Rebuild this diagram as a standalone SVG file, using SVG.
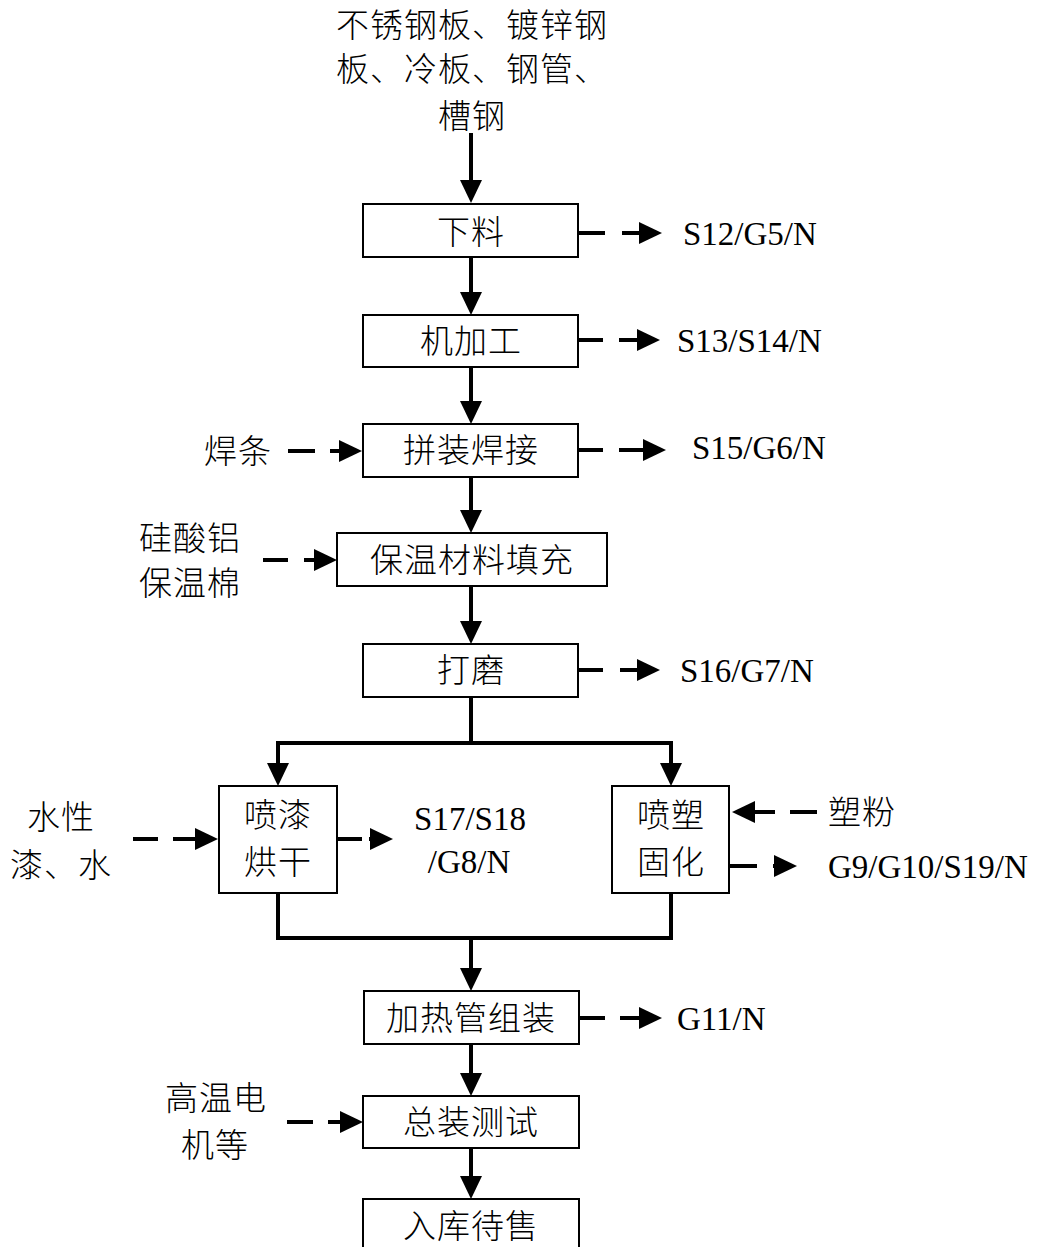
<svg xmlns="http://www.w3.org/2000/svg" width="1043" height="1247" viewBox="0 0 1043 1247">
<defs>
<style>
.box{fill:#fff;stroke:#000;stroke-width:2}
.cn{font-family:"Noto Sans CJK SC","Liberation Serif",serif;font-size:33px;font-weight:300;letter-spacing:1px;fill:#000}
.en{font-family:"Liberation Serif","Times New Roman",serif;font-size:33px;fill:#000}
.mid{text-anchor:middle}
.ln{fill:none;stroke:#000;stroke-width:4;marker-end:url(#ah)}
.pl{fill:none;stroke:#000;stroke-width:4}
</style>
<marker id="ah" markerUnits="userSpaceOnUse" viewBox="0 0 23 22" markerWidth="23" markerHeight="22" refX="17" refY="11" orient="auto">
<path d="M0 0 L23 11 L0 22 Z" fill="#000"/>
</marker>
</defs>
<rect width="1043" height="1247" fill="#fff"/>

<g id="connectors">
<path class="ln" d="M471 133 V197"/>
<path class="ln" d="M471 257 V309"/>
<path class="ln" d="M471 367 V418"/>
<path class="ln" d="M471 477 V527"/>
<path class="ln" d="M471 586 V638"/>
<path class="pl" d="M471 697 V743 M278 743 H671"/>
<path class="ln" d="M278 741 V780"/>
<path class="ln" d="M671 741 V780"/>
<path class="pl" d="M278 893 V938 M671 893 V938 M276 938 H673"/>
<path class="ln" d="M471 938 V985"/>
<path class="ln" d="M471 1044 V1090"/>
<path class="ln" d="M471 1148 V1193"/>
<path class="ln" d="M578 233 H605 M622 233 H656"/>
<path class="ln" d="M578 340 H603 M619 340 H654"/>
<path class="ln" d="M578 450 H603 M619 450 H660"/>
<path class="ln" d="M578 670 H603 M620 670 H654"/>
<path class="ln" d="M579 1018 H605 M620 1018 H656"/>
<path class="ln" d="M337 839 H362 M369 839 H387"/>
<path class="ln" d="M729 866 H757 M773 866 H791"/>
<path class="ln" d="M288 451 H315 M330 451 H356"/>
<path class="ln" d="M263 560 H288 M304 560 H331"/>
<path class="ln" d="M133 839 H158 M173 839 H212"/>
<path class="ln" d="M287 1122 H313 M328 1122 H357"/>
<path class="ln" d="M817 812 H790 M775 812 H738"/>
</g>

<g id="input-materials">
<text class="cn mid" x="472" y="37">不锈钢板、镀锌钢</text>
<text class="cn mid" x="472" y="81">板、冷板、钢管、</text>
<text class="cn mid" x="472" y="128">槽钢</text>
</g>

<g id="n-xialiao"><rect class="box" x="363" y="204" width="215" height="53"/><text class="cn mid" x="471" y="244">下料</text></g>
<g id="n-jijiagong"><rect class="box" x="363" y="315" width="215" height="52"/><text class="cn mid" x="471" y="353">机加工</text></g>
<g id="n-pinzhuang"><rect class="box" x="363" y="424" width="215" height="53"/><text class="cn mid" x="471" y="462">拼装焊接</text></g>
<g id="n-baowen"><rect class="box" x="337" y="533" width="270" height="53"/><text class="cn mid" x="472" y="572">保温材料填充</text></g>
<g id="n-damo"><rect class="box" x="363" y="644" width="215" height="53"/><text class="cn mid" x="471" y="682">打磨</text></g>
<g id="n-penqi"><rect class="box" x="219" y="786" width="118" height="107"/><text class="cn mid" x="278" y="827">喷漆</text><text class="cn mid" x="278" y="874">烘干</text></g>
<g id="n-pensu"><rect class="box" x="612" y="786" width="117" height="107"/><text class="cn mid" x="671" y="827">喷塑</text><text class="cn mid" x="671" y="874">固化</text></g>
<g id="n-jiare"><rect class="box" x="364" y="991" width="215" height="53"/><text class="cn mid" x="471" y="1030">加热管组装</text></g>
<g id="n-zongzhuang"><rect class="box" x="363" y="1096" width="216" height="52"/><text class="cn mid" x="471" y="1134">总装测试</text></g>
<g id="n-ruku"><rect class="box" x="363" y="1199" width="216" height="53"/><text class="cn mid" x="471" y="1238">入库待售</text></g>

<g id="side-inputs">
<text class="cn mid" x="238" y="463">焊条</text>
<text class="cn mid" x="190" y="550">硅酸铝</text>
<text class="cn mid" x="190" y="595">保温棉</text>
<text class="cn mid" x="61" y="829">水性</text>
<text class="cn mid" x="61" y="877">漆、水</text>
<text class="cn mid" x="862" y="824">塑粉</text>
<text class="cn mid" x="216" y="1110">高温电</text>
<text class="cn mid" x="215" y="1157">机等</text>
</g>

<g id="side-outputs">
<text class="en" x="683" y="245">S12/G5/N</text>
<text class="en" x="677" y="352">S13/S14/N</text>
<text class="en" x="692" y="459">S15/G6/N</text>
<text class="en" x="680" y="682">S16/G7/N</text>
<text class="en mid" x="470" y="830">S17/S18</text>
<text class="en mid" x="469" y="873">/G8/N</text>
<text class="en" x="828" y="878">G9/G10/S19/N</text>
<text class="en" x="677" y="1030">G11/N</text>
</g>
</svg>
